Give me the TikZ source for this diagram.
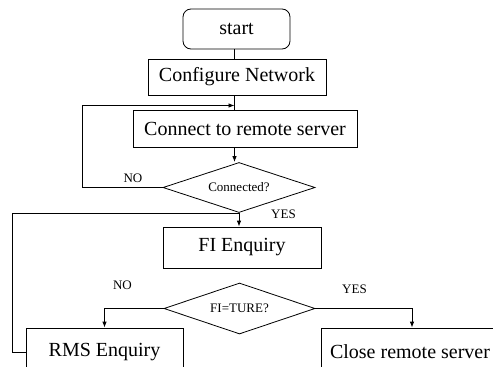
\documentclass[tikz,border=0pt]{standalone}
\usepackage{fontspec}
\setmainfont{Liberation Serif}
\usetikzlibrary{shapes.geometric,arrows.meta}

\tikzset{
  flowline/.style={line width=0.8pt, draw=black},
  arr/.style={flowline, -{Latex[length=6pt,width=4.5pt]}},
  procbox/.style={draw, line width=0.8pt, rectangle, inner sep=0pt,
    font=\fontsize{20}{24}\selectfont},
  startbox/.style={procbox, rounded corners=8pt},
  decision/.style={draw, line width=0.8pt, diamond, aspect=3, inner sep=0pt,
    font=\fontsize{13}{15}\selectfont},
  edgelabel/.style={inner sep=0pt, font=\fontsize{13}{15}\selectfont},
}

\begin{document}
\begin{tikzpicture}[x=1pt, y=-1pt]
  \clip (0,0) rectangle (493,367);
  \fill[white] (0,0) rectangle (493,367);

  % process steps
  \node[startbox, minimum width=107pt, minimum height=40pt] (start) at (236.5,29) {start};
  \node[procbox, minimum width=178pt, minimum height=36pt] (config) at (237,77) {Configure Network};
  \node[procbox, minimum width=224pt, minimum height=37pt] (connect) at (245,128.5) {Connect to remote server};
  \node[decision, minimum width=152pt, minimum height=50pt] (conn) at (239,187.5) {Connected?};
  \node[procbox, minimum width=158pt, minimum height=41pt] (fi) at (242,247.5) {FI Enquiry};
  \node[decision, minimum width=151pt, minimum height=51pt] (fitrue) at (239.5,308.5) {FI=TURE?};
  \node[procbox, minimum width=157pt, minimum height=48pt] (rms) at (104.5,352) {RMS Enquiry};
  \node[procbox, minimum width=178pt, minimum height=48pt] (close) at (410,352) {Close remote server};

  % helper points
  \coordinate (spine) at (234.5,0);
  \coordinate (loopL) at (82,105.5);
  \coordinate (barL) at (12.5,0);

  % main flow
  \draw[flowline] (start.south -| spine) -- (config.north -| spine);
  \draw[flowline] (config.south -| spine) -- (connect.north -| spine);
  \draw[arr] (connect.south -| spine) -- (spine |- conn.north);
  \draw[arr] (conn.south) -- (conn.south |- fi.north);

  % retry loop
  \draw[arr] (conn.west) -| (loopL) -- (loopL -| spine);

  % return path from RMS Enquiry
  \draw[flowline] (conn.south) -- (conn.south -| barL) |- (rms.west);

  % branches of FI=TURE?
  \draw[arr] (fitrue.west) -| (rms.north);
  \draw[arr] (fitrue.east) -| ([xshift=2pt]close.north);

  % branch labels
  \node[edgelabel] (noA) at (133,178) {NO};
  \node[edgelabel] (yesA) at (283.5,214) {YES};
  \node[edgelabel] (noB) at (122.5,285) {NO};
  \node[edgelabel] (yesB) at (354.5,289.5) {YES};
\end{tikzpicture}
\end{document}
